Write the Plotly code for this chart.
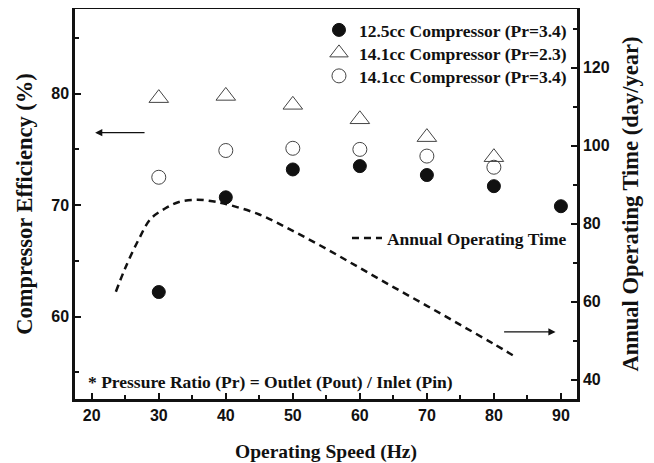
import plotly.graph_objects as go

speed = [30, 40, 50, 60, 70, 80, 90]
eff_125_pr34 = [62.2, 70.7, 73.2, 73.5, 72.7, 71.7, 69.9]
speed_141 = [30, 40, 50, 60, 70, 80]
eff_141_pr23 = [79.6, 79.8, 79.0, 77.7, 76.1, 74.3]
eff_141_pr34 = [72.5, 74.9, 75.1, 75.0, 74.4, 73.4]

aot_speed = [23.6, 25, 27, 28.8, 31, 33, 35.7, 38, 40, 45, 50, 55, 60, 65, 70, 75, 80, 83.5]
aot_days = [62.6, 68.7, 76.0, 81.3, 84.0, 85.6, 86.2, 85.8, 85.1, 82.4, 78.2, 73.6, 68.7, 63.8, 59.0, 54.1, 49.2, 45.6]

names = ["12.5cc Compressor (Pr=3.4)", "14.1cc Compressor (Pr=2.3)",
         "14.1cc Compressor (Pr=3.4)", "Annual Operating Time"]

serif = "Liberation Serif"
sans = "Liberation Sans"
ink = "#111111"

fig = go.Figure()
fig.add_trace(go.Scatter(x=speed, y=eff_125_pr34, mode="markers", name=names[0], legend="legend5",
                         marker=dict(symbol="circle", size=13, color=ink,
                                     line=dict(color=ink, width=1))))
fig.add_trace(go.Scatter(x=speed_141, y=eff_141_pr23, mode="markers", name=names[1], legend="legend3",
                         marker=dict(symbol="triangle-up-open", size=17, color="#444444",
                                     line=dict(color="#444444", width=1))))
fig.add_trace(go.Scatter(x=speed_141, y=eff_141_pr34, mode="markers", name=names[2], legend="legend4",
                         marker=dict(symbol="circle-open", size=14, color="#444444",
                                     line=dict(color="#444444", width=1))))
fig.add_trace(go.Scatter(x=aot_speed, y=aot_days, mode="lines", name=names[3], yaxis="y2",
                         legend="legend2",
                         line=dict(color=ink, width=2.5, dash="7px,5px", shape="spline")))

axis_common = dict(
    showline=True, linecolor=ink, linewidth=2.5,
    ticks="inside", ticklen=6, tickwidth=2, tickcolor=ink,
    showgrid=False, zeroline=False,
    tickfont=dict(family=sans, size=16, color=ink, weight="bold"),
)
minor5 = dict(ticks="inside", ticklen=4, tickwidth=2, tickcolor=ink, dtick=5, tick0=0)
title_font = dict(family=serif, size=22.5, color=ink, weight="bold")
leg_font = dict(family=serif, size=17.5, color=ink, weight="bold")


def leg(py):
    return dict(x=0.99, xanchor="right", y=(399 - py) / 390, yanchor="middle",
                bgcolor="rgba(0,0,0,0)", font=leg_font, itemwidth=30)


# the page body adds an 8px offset, so the figure is 8px smaller and margins compensate
fig.update_layout(
    width=646, height=455,
    margin=dict(l=67, r=77, t=1, b=64, autoexpand=False),
    plot_bgcolor="white", paper_bgcolor="white",
    xaxis=dict(range=[17.5, 92.4], tickmode="array", tickvals=[20, 30, 40, 50, 60, 70, 80, 90],
               mirror=True, minor=minor5,
               title=dict(text="Operating Speed (Hz)",
                          font=dict(family=serif, size=19.5, color=ink, weight="bold"), standoff=25),
               **axis_common),
    yaxis=dict(range=[52.6, 87.6], tickvals=[60, 70, 80], minor=minor5,
               title=dict(text="Compressor Efficiency (%)", font=title_font, standoff=13),
               **axis_common),
    yaxis2=dict(range=[35.1, 135.1], tickvals=[40, 60, 80, 100, 120], overlaying="y", side="right",
                minor=dict(ticks="inside", ticklen=4, tickwidth=2, tickcolor=ink, dtick=10, tick0=0),
                title=dict(text="Annual Operating Time (day/year)", font=title_font, standoff=14),
                **axis_common),
    showlegend=True,
    legend5=leg(30),
    legend3=leg(53),
    legend4=leg(76),
    legend2=leg(238),
    annotations=[
        dict(x=20.5, y=76.5, ax=28.1, ay=76.5, xref="x", yref="y", axref="x", ayref="y",
             showarrow=True, arrowhead=2, arrowsize=1.2, arrowwidth=1.2, arrowcolor=ink, text=""),
        dict(x=89.2, y=52.3, ax=81.3, ay=52.3, xref="x", yref="y2", axref="x", ayref="y2",
             showarrow=True, arrowhead=2, arrowsize=1.2, arrowwidth=1.2, arrowcolor=ink, text=""),
        dict(x=0.022, y=(399 - 382) / 390, xref="paper", yref="paper", xanchor="left", yanchor="middle",
             showarrow=False, text="* Pressure Ratio (Pr) = Outlet (Pout) / Inlet (Pin)",
             font=dict(family=serif, size=17.5, color=ink, weight="bold")),
    ],
)

fig.write_html("out.html")
